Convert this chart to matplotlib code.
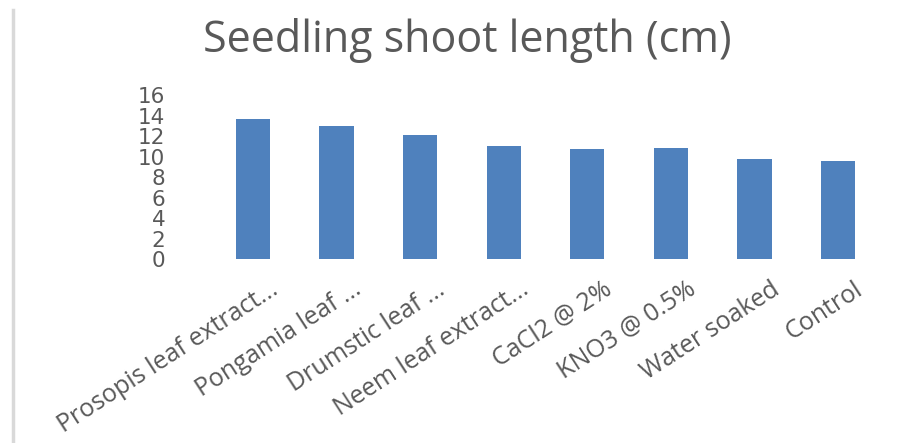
import matplotlib.pyplot as plt
from matplotlib.lines import Line2D
import matplotlib.transforms as mtransforms
import numpy as np

treatments = [
    "Prosopis leaf extract...",
    "Pongamia leaf ...",
    "Drumstic leaf ...",
    "Neem leaf extract...",
    "CaCl2 @ 2%",
    "KNO3 @ 0.5%",
    "Water soaked",
    "Control",
]
shoot_length = [13.7, 13.0, 12.1, 11.0, 10.7, 10.85, 9.8, 9.6]
y_ticks = [0, 2, 4, 6, 8, 10, 12, 14, 16]

bar_color = "#4F81BD"
text_color = "#595959"

plt.rcParams['font.family'] = ['Open Sans', 'DejaVu Sans']

fig = plt.figure(figsize=(9.1, 4.43), dpi=100)
ax = fig.add_axes([0.232, 0.4153, 0.735, 0.3702])

x = np.arange(len(treatments))
ax.bar(x, shoot_length, width=0.41, color=bar_color)

ax.set_xlim(-0.5, len(treatments) - 0.5)
ax.set_ylim(0, 16)
ax.set_yticks(y_ticks)
ax.set_yticklabels([str(t) for t in y_ticks], family='DejaVu Sans',
                   fontsize=15.5, color=text_color)
ax.tick_params(axis='y', length=0, pad=33)

ax.set_xticks(x)
ax.set_xticklabels(treatments, rotation=33, ha='right', va='top',
                   rotation_mode='anchor', fontsize=18, color=text_color)
ax.tick_params(axis='x', length=0, pad=13)

# nudge the slanted labels so they end just right of each bar centre
shift = mtransforms.ScaledTranslation(16 / 100, 0, fig.dpi_scale_trans)
for lbl in ax.get_xticklabels():
    lbl.set_transform(lbl.get_transform() + shift)

for side in ['top', 'right', 'left', 'bottom']:
    ax.spines[side].set_visible(False)

fig.text(0.514, 0.883, "Seedling shoot length (cm)", ha='center',
         va='baseline', fontsize=31, color=text_color)

# thin grey frame edge on the left
fig.add_artist(Line2D([0.0148, 0.0148], [0.0, 0.977], color="#d9d9d9",
                      linewidth=2.5, transform=fig.transFigure))

fig.savefig("out.png", dpi=100, facecolor='white')
